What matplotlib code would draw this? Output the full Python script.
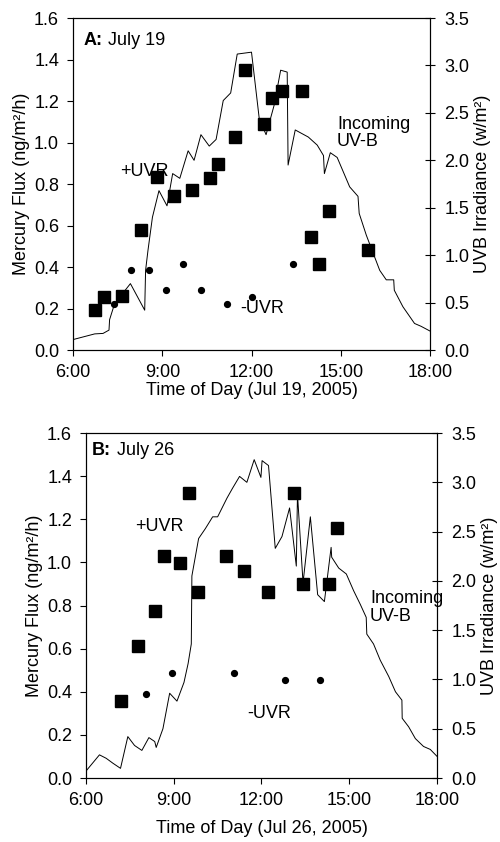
import matplotlib
matplotlib.use('Agg')
from matplotlib import pyplot as plt

plt.rcParams['font.family'] = ['Liberation Sans', 'DejaVu Sans']

## panel A: July 19 (times in hours of day)
a_plus_t  = [6.74, 7.04, 7.65, 8.27, 8.83, 9.40, 10.0, 10.6, 10.88, 11.45, 11.77, 12.43, 12.70, 13.02, 13.69, 13.99, 14.27, 14.59, 15.93]
a_plus    = [0.195, 0.256, 0.26, 0.58, 0.832, 0.74, 0.77, 0.83, 0.897, 1.029, 1.35, 1.09, 1.216, 1.25, 1.25, 0.545, 0.416, 0.672, 0.48]
a_minus_t = [7.38, 7.96, 8.54, 9.11, 9.71, 10.29, 11.18, 12.02, 13.40]
a_minus   = [0.224, 0.384, 0.384, 0.288, 0.416, 0.288, 0.224, 0.256, 0.416]
a_uv_t = [6.0, 6.73, 7.01, 7.21, 7.23, 7.4, 7.93, 8.41, 8.44, 8.52, 8.67, 8.89, 9.16, 9.35, 9.59, 9.87, 10.07,
          10.30, 10.58, 10.81, 11.05, 11.30, 11.52, 12.0, 12.26, 12.49, 12.76, 12.98, 13.20, 13.23, 13.47, 13.91,
          14.21, 14.42, 14.45, 14.65, 14.88, 15.3, 15.58, 15.62, 15.86, 16.31, 16.53, 16.78, 16.8, 17.09, 17.48, 17.7, 18.0]
a_uv   = [0.11, 0.17, 0.175, 0.21, 0.32, 0.49, 0.70, 0.42, 0.84, 1.05, 1.40, 1.68, 1.52, 1.86, 1.81, 2.10, 2.0,
          2.27, 2.15, 2.22, 2.63, 2.71, 3.12, 3.14, 2.44, 2.27, 2.58, 2.95, 2.93, 1.95, 2.32, 2.245,
          2.16, 2.05, 1.86, 2.08, 2.03, 1.72, 1.62, 1.44, 1.21, 0.84, 0.74, 0.74, 0.63, 0.456, 0.28, 0.25, 0.2]

## panel B: July 26
b_plus_t  = [7.2, 7.77, 8.35, 8.66, 9.23, 9.53, 9.83, 10.79, 11.39, 12.23, 13.1, 13.41, 14.3, 14.58]
b_plus    = [0.358, 0.612, 0.774, 1.03, 0.996, 1.321, 0.864, 1.03, 0.96, 0.864, 1.321, 0.90, 0.90, 1.16]
b_minus_t = [8.06, 8.94, 11.07, 12.81, 13.99]
b_minus   = [0.389, 0.488, 0.488, 0.454, 0.454]
b_uv_t = [6.01, 6.46, 6.69, 6.92, 7.18, 7.43, 7.66, 7.91, 8.15, 8.35, 8.40, 8.63, 8.86, 9.11, 9.35, 9.49, 9.60,
          9.62, 9.85, 10.08, 10.33, 10.5, 10.82, 11.01, 11.25, 11.5, 11.75, 11.98, 12.02, 12.24, 12.47, 12.70,
          12.96, 13.19, 13.23, 13.42, 13.67, 13.92, 14.15, 14.38, 14.40, 14.64, 14.9, 15.15, 15.38, 15.58, 15.6,
          15.83, 16.06, 16.35, 16.58, 16.8, 16.81, 17.03, 17.26, 17.54, 17.77, 18.0]
b_uv   = [0.074, 0.235, 0.2, 0.15, 0.098, 0.42, 0.33, 0.28, 0.41, 0.37, 0.31, 0.50, 0.86, 0.78, 0.97, 1.16, 1.36,
          2.05, 2.43, 2.53, 2.65, 2.65, 2.84, 2.94, 3.06, 3.0, 3.23, 3.05, 3.22, 3.17, 2.33, 2.45,
          2.74, 2.15, 2.88, 1.98, 2.65, 1.86, 1.79, 2.34, 2.24, 2.13, 2.07, 1.90, 1.76, 1.63, 1.46,
          1.36, 1.195, 1.03, 0.875, 0.79, 0.606, 0.52, 0.40, 0.32, 0.29, 0.22]

hour_ticks = [6, 9, 12, 15, 18]
hour_labels = ['6:00', '9:00', '12:00', '15:00', '18:00']
flux_ticks = [0.0, 0.2, 0.4, 0.6, 0.8, 1.0, 1.2, 1.4, 1.6]
uv_ticks = [0.0, 0.5, 1.0, 1.5, 2.0, 2.5, 3.0, 3.5]

fs = 13
fig = plt.figure(figsize=(5, 8.42), dpi=100)


def panel(rect, plus_t, plus, minus_t, minus, uv_t, uv, letter, date, xlabel, sq, xpad, notes):
    ax = fig.add_axes(rect)
    ax2 = ax.twinx()
    ax2.plot(uv_t, uv, color='k', lw=0.7)
    ax.plot(plus_t, plus, 's', color='k', markersize=sq, zorder=3)
    ax.plot(minus_t, minus, 'o', color='k', markersize=4.2, zorder=3)
    ax.set_zorder(ax2.get_zorder() + 1)
    ax.patch.set_visible(False)

    ax.set_xlim(6, 18)
    ax.set_ylim(0, 1.6)
    ax2.set_ylim(0, 3.5)
    ax.set_xticks(hour_ticks)
    ax.set_xticklabels(hour_labels, fontsize=fs)
    ax.set_yticks(flux_ticks)
    ax.set_yticklabels(['%.1f' % v for v in flux_ticks], fontsize=fs)
    ax2.set_yticks(uv_ticks)
    ax2.set_yticklabels(['%.1f' % v for v in uv_ticks], fontsize=fs)
    ax.tick_params(direction='out', length=4, width=0.8)
    ax.tick_params(axis='x', pad=6)
    ax.tick_params(axis='y', pad=6)
    ax2.tick_params(direction='inout', length=7, width=0.8, pad=7)
    for s in ax.spines.values():
        s.set_linewidth(0.8)
    ax.set_xlabel(xlabel, fontsize=fs, labelpad=xpad)
    ax.set_ylabel('Mercury Flux (ng/m\u00b2/h)', fontsize=fs, labelpad=3)
    ax2.set_ylabel('UVB Irradiance (w/m\u00b2)', fontsize=fs, labelpad=3)

    ax.text(notes[0][0], notes[0][1], letter, fontsize=fs, fontweight='bold', va='center')
    ax.annotate(date, (notes[0][0], notes[0][1]), xytext=(18, 0), textcoords='offset points',
                fontsize=fs, va='center')
    ax.text(notes[1][0], notes[1][1], '+UVR', fontsize=fs, va='center')
    ax.text(notes[2][0], notes[2][1], '-UVR', fontsize=fs, va='center')
    ax.text(notes[3][0], notes[3][1], 'Incoming\nUV-B', fontsize=fs, va='top', linespacing=1.05)
    return ax


panel([0.146, 0.5843, 0.714, 0.3943], a_plus_t, a_plus, a_minus_t, a_minus, a_uv_t, a_uv,
      'A:', 'July 19', 'Time of Day (Jul 19, 2005)', 8, 0.5,
      [(6.34, 1.494), (7.58, 0.858), (11.61, 0.2), (14.87, 1.13)])
panel([0.172, 0.076, 0.702, 0.4097], b_plus_t, b_plus, b_minus_t, b_minus, b_uv_t, b_uv,
      'B:', 'July 26', 'Time of Day (Jul 26, 2005)', 9, 8,
      [(6.2, 1.518), (7.68, 1.166), (11.5, 0.297), (15.71, 0.87)])

plt.savefig('out.png', dpi=100)
